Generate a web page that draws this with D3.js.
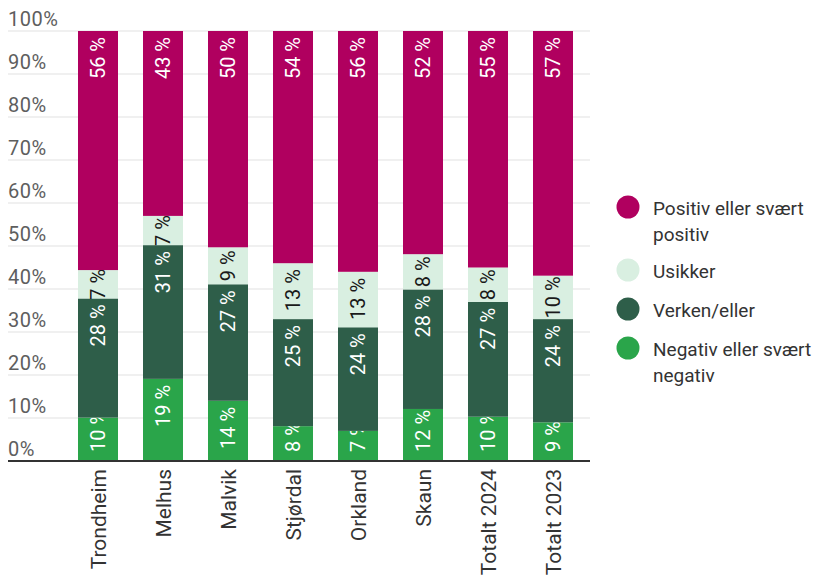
<!DOCTYPE html>
<html>
<head>
<meta charset="utf-8">
<script src="https://cdn.jsdelivr.net/npm/d3@7"></script>
<style>
  body { margin: 0; background: #fff; }
  svg { font-family: Roboto, sans-serif; }
</style>
</head>
<body>
<script>
// values (percent, each bar sums to 100)
var categories = ["Trondheim", "Melhus", "Malvik", "Stjørdal", "Orkland", "Skaun", "Totalt 2024", "Totalt 2023"];
var negativ = [10.1, 19.1, 14.0, 8.1, 7.0, 12.1, 10.3, 9.0];
var verken  = [27.7, 31.1, 27.1, 24.9, 24.1, 27.8, 26.7, 24.0];
var usikker = [6.6, 6.8, 8.6, 13.0, 12.9, 8.2, 8.0, 10.1];
var positiv = [55.6, 43.0, 50.3, 54.0, 56.0, 51.9, 55.0, 56.9];

var seriesNames = ["Negativ eller svært negativ", "Verken/eller", "Usikker", "Positiv eller svært positiv"];
var seriesValues = [negativ, verken, usikker, positiv];
var seriesColors = ["#2aa54a", "#2e5e49", "#d9efe1", "#b0005f"];
var labelColors  = ["#fff", "#fff", "#1a1a1a", "#fff"];
var yTicks = [0, 10, 20, 30, 40, 50, 60, 70, 80, 90, 100];

var width  = 818,
    height = 578;

var svg = d3.select("body")
    .append("svg")
    .attr("width", width)
    .attr("height", height);

var x = d3.scaleBand()
    .domain(categories)
    .range([45.5, 605.5])
    .paddingInner(25 / 65)
    .paddingOuter(0.5);

var y = d3.scaleLinear()
    .domain([0, 100])
    .range([461, 31]);

var rows = categories.map((c, i) => {
    var r = {cat: c};
    seriesNames.forEach((s, j) => r[s] = seriesValues[j][i]);
    return r;
});

var stacked = d3.stack().keys(seriesNames)(rows);

// grid + tick labels
var grid = svg.append("g");
grid.selectAll("line")
    .data(yTicks.filter(t => t > 0))
    .join("line")
    .attr("x1", 8)
    .attr("x2", 590)
    .attr("y1", d => y(d))
    .attr("y2", d => y(d))
    .style("stroke", "#e1e1e1")
    .style("stroke-width", 1);

grid.selectAll("text")
    .data(yTicks)
    .join("text")
    .attr("x", 8)
    .attr("y", d => y(d) - 5)
    .style("font-size", "20px")
    .style("letter-spacing", "0.5px")
    .style("fill", "#5e5e5e")
    .text(d => d + "%");

// bars
var layers = svg.append("g")
    .selectAll("g")
    .data(stacked)
    .join("g")
    .attr("fill", (d, i) => seriesColors[i]);

layers.selectAll("rect")
    .data(d => d)
    .join("rect")
    .attr("x", d => x(d.data.cat))
    .attr("width", x.bandwidth())
    .attr("y", d => y(d[1]))
    .attr("height", d => y(d[0]) - y(d[1]));

// value labels inside bars, rotated
layers.each(function(layer, li) {
    d3.select(this).selectAll("text")
        .data(layer)
        .join("text")
        .attr("text-anchor", "end")
        .attr("dy", "0.36em")
        .style("font-size", "20px")
        .style("fill", labelColors[li])
        .text(d => Math.round(d[1] - d[0]) + " %")
        .each(function(d) {
            var len = this.getComputedTextLength();
            var top = y(d[1]), bottom = y(d[0]);
            var start = top + 6;
            if (li == 0) {
                // bottom segment: keep clear of the baseline
                start = Math.min(start, bottom - 9 - len);
            } else if (start + len > bottom - 4) {
                start = (top + bottom) / 2 - len / 2;
            }
            var cx = x(d.data.cat) + x.bandwidth() / 2;
            d3.select(this).attr("transform", "translate(" + cx + "," + start + ") rotate(-90)");
        });
});

// baseline
svg.append("line")
    .attr("x1", 8)
    .attr("x2", 590)
    .attr("y1", y(0))
    .attr("y2", y(0))
    .style("stroke", "#333")
    .style("stroke-width", 2);

// category labels
svg.append("g")
    .selectAll("text")
    .data(categories)
    .join("text")
    .attr("text-anchor", "end")
    .attr("dy", "0.36em")
    .attr("transform", d => "translate(" + (x(d) + x.bandwidth() / 2) + "," + 469 + ") rotate(-90)")
    .style("font-size", "21px")
    .style("fill", "#333")
    .text(d => d);

// legend (top item first)
var legendItems = [
    {name: ["Positiv eller svært", "positiv"], color: seriesColors[3], cy: 207},
    {name: ["Usikker"], color: seriesColors[2], cy: 270},
    {name: ["Verken/eller"], color: seriesColors[1], cy: 309},
    {name: ["Negativ eller svært", "negativ"], color: seriesColors[0], cy: 348}
];

var legend = svg.append("g")
    .selectAll("g")
    .data(legendItems)
    .join("g");

legend.append("circle")
    .attr("cx", 628)
    .attr("cy", d => d.cy)
    .attr("r", 11.5)
    .attr("fill", d => d.color);

legend.append("text")
    .attr("x", 653)
    .attr("y", d => d.cy + 8)
    .style("font-size", "19px")
    .style("fill", "#333")
    .selectAll("tspan")
    .data(d => d.name)
    .join("tspan")
    .attr("x", 653)
    .attr("dy", (d, i) => i == 0 ? 0 : 26)
    .text(d => d);
</script>
</body>
</html>
